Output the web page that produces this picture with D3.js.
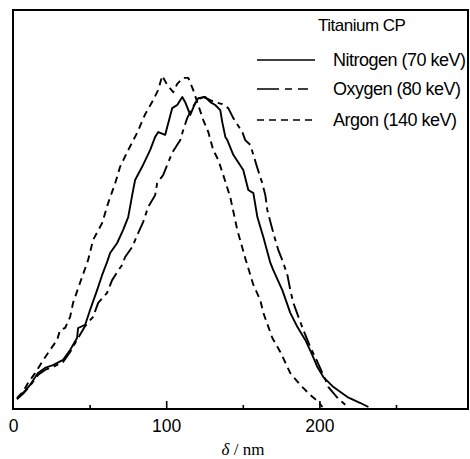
<!DOCTYPE html>
<html>
<head>
<meta charset="utf-8">
<script src="https://cdn.jsdelivr.net/npm/d3@7/dist/d3.min.js"></script>
<style>
  html, body { margin: 0; padding: 0; background: #fff; }
  svg { display: block; }
</style>
</head>
<body>
<svg id="chart" width="470" height="459"></svg>
<script>
// ---- data (δ in nm, relative intensity) ----
const seriesNames = ["Nitrogen (70 keV)", "Oxygen (80 keV)", "Argon (140 keV)"];
const legendTitle = "Titanium CP";
const xLabel = "δ / nm";
const majorTicks = [0, 100, 200];
const minorTicks = [50, 150, 250];

const nitrogen = [
  [2.6,2.5],[6.5,4.0],[11.1,6.0],[16.3,9.0],[20.9,10.3],[26.1,11.0],[32.7,12.3],[37.3,14.8],
  [41.8,17.8],[42.5,20.3],[47.1,21.1],[50.3,24.8],[54.9,29.8],[58.2,33.6],[61.4,36.8],[63.4,39.1],
  [68.0,41.6],[71.9,44.9],[75.2,48.1],[77.8,53.6],[79.7,57.4],[84.3,60.7],[89.5,64.9],[92.8,68.2],
  [94.8,69.4],[99.3,68.7],[103.9,75.4],[107.2,76.2],[110.5,78.2],[112.4,76.9],[115.7,73.7],[119.0,76.7],
  [120.9,77.9],[125.5,78.2],[128.8,76.9],[132.0,76.2],[135.3,74.9],[136.6,71.9],[138.6,68.2],[139.9,67.4],
  [143.8,63.7],[150.3,59.9],[153.6,54.9],[156.9,54.1],[159.5,48.1],[163.4,43.1],[168.0,36.6],[169.9,34.8],
  [175.8,29.8],[181.0,24.1],[185.6,20.6],[190.8,17.3],[195.4,13.5],[198.7,10.5],[202.6,8.0],[209.2,5.5],
  [218.3,3.0],[226.8,1.5],[232.0,0.5]
];
const oxygen = [
  [2.6,2.5],[6.5,3.8],[11.1,5.8],[16.3,8.5],[20.9,9.8],[26.1,10.5],[32.7,11.8],[37.3,14.3],
  [42.5,17.8],[47.1,20.8],[52.3,23.1],[55.6,26.6],[61.4,29.1],[64.7,32.3],[68.0,34.3],[71.2,36.1],
  [73.2,38.1],[77.8,40.6],[81.7,44.1],[85.0,46.9],[88.2,50.6],[92.8,53.6],[94.1,56.6],[98.0,58.6],
  [100.7,61.2],[103.9,64.2],[109.2,67.4],[111.1,69.9],[113.7,72.9],[117.0,75.4],[120.3,77.4],[124.2,78.2],
  [128.8,77.4],[132.0,76.9],[136.6,76.4],[140.5,75.4],[143.8,72.9],[149.7,69.4],[151.6,67.4],[154.9,66.2],
  [156.9,63.7],[159.5,60.4],[162.7,56.6],[164.7,53.6],[166.0,49.9],[168.0,46.9],[171.2,42.4],[173.2,39.8],
  [175.8,37.3],[179.1,33.6],[181.0,29.8],[183.0,26.6],[186.3,23.1],[189.5,19.8],[194.1,15.5],[198.7,11.8],
  [202.6,8.5],[205.9,5.5],[211.8,2.8],[217.0,1.0]
];
const argon = [
  [2.6,2.8],[6.5,4.3],[9.8,6.5],[14.4,9.0],[19.0,11.8],[24.2,14.8],[28.8,17.3],[30.7,19.8],
  [34.0,20.3],[37.3,23.1],[39.2,26.6],[45.1,33.1],[49.0,37.3],[52.3,42.4],[58.2,46.6],[62.1,51.6],
  [66.7,56.6],[69.9,60.7],[75.2,64.9],[81.0,69.2],[86.3,73.9],[91.5,77.4],[94.8,80.0],[97.4,83.5],
  [100.7,81.2],[104.6,79.4],[107.2,81.5],[111.1,83.0],[114.4,83.0],[117.6,80.0],[120.9,76.2],[124.2,72.4],
  [127.5,69.4],[130.7,64.9],[134.0,62.4],[136.6,59.4],[141.8,53.1],[146.4,44.9],[151.6,37.8],[156.9,31.1],
  [161.4,27.3],[163.4,24.1],[169.3,17.8],[174.5,14.3],[181.0,9.0],[187.6,6.0],[194.1,3.5],[199.3,1.8],
  [202.0,0.5]
];
const seriesData = [nitrogen, oxygen, argon];
const dashes = [null, "15,5,5,5", "7,5"];

// ---- layout ----
const svg = d3.select("#chart");
const L = 13, R = 468, T = 10, B = 409;
const x = d3.scaleLinear().domain([0, 297]).range([L, R]);
const y = d3.scaleLinear().domain([0, 100]).range([B, T]);

// frame
svg.append("rect")
  .attr("x", L).attr("y", T).attr("width", R - L).attr("height", B - T)
  .attr("fill", "none").attr("stroke", "#000").attr("stroke-width", 2);

// axes
const gMaj = svg.append("g").attr("transform", `translate(0,${B})`)
  .call(d3.axisBottom(x).tickValues(majorTicks).tickSize(-8).tickPadding(11).tickFormat(d3.format("d")));
const gMin = svg.append("g").attr("transform", `translate(0,${B})`)
  .call(d3.axisBottom(x).tickValues(minorTicks).tickSize(-4).tickFormat(""));
[gMaj, gMin].forEach(g => {
  g.select(".domain").remove();
  g.selectAll(".tick line").attr("stroke", "#000").attr("stroke-width", 1.6);
});
gMaj.selectAll(".tick text")
  .attr("font-family", "Liberation Sans, Arial, sans-serif")
  .attr("font-size", 17.5).attr("fill", "#000");
gMaj.selectAll(".tick").filter(d => d === 0).select("line").remove();

// x label
const xl = svg.append("text")
  .attr("x", 243).attr("y", 455).attr("text-anchor", "middle")
  .attr("font-family", "Liberation Serif, Times New Roman, serif")
  .attr("font-size", 17).attr("fill", "#000");
xl.append("tspan").attr("font-style", "italic").text(xLabel.split(" ")[0]);
xl.append("tspan").text(" " + xLabel.split(" ").slice(1).join(" "));

// curves
const line = d3.line().x(d => x(d[0])).y(d => y(d[1]));
seriesData.forEach((s, i) => {
  svg.append("path")
    .datum(s)
    .attr("d", line)
    .attr("fill", "none")
    .attr("stroke", "#000")
    .attr("stroke-width", 1.9)
    .attr("stroke-linejoin", "round")
    .attr("stroke-dasharray", dashes[i]);
});

// legend
const lg = svg.append("g").attr("font-family", "Liberation Sans, Arial, sans-serif").attr("fill", "#000");
lg.append("text").attr("x", 318).attr("y", 31).attr("font-size", 17).attr("letter-spacing", -0.5).text(legendTitle);
const rowsY = [60, 89, 120];
seriesNames.forEach((name, i) => {
  lg.append("line")
    .attr("x1", 257).attr("x2", 315).attr("y1", rowsY[i]).attr("y2", rowsY[i])
    .attr("stroke", "#000").attr("stroke-width", 1.6)
    .attr("stroke-dasharray", i === 1 ? "22,6,7,6,10" : dashes[i]);
  lg.append("text").attr("x", 333).attr("y", rowsY[i]).attr("dy", "0.36em")
    .attr("font-size", 18).attr("letter-spacing", -0.5).text(name);
});
</script>
</body>
</html>
